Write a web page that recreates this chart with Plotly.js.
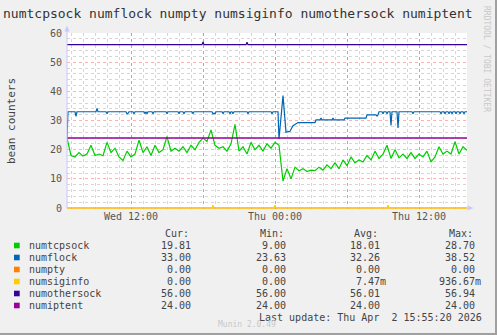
<!DOCTYPE html>
<html>
<head>
<meta charset="utf-8">
<script src="https://cdn.plot.ly/plotly-3.0.1.min.js"></script>
<style>html,body{margin:0;padding:0;background:#F0F0F0;}#chart{width:497px;height:335px;}</style>
</head>
<body>
<div id="chart"></div>
<script>
// ---- data ----
const seriesNames = ["numtcpsock","numflock","numpty","numsiginfo","numothersock","numiptent"];
const seriesColors = ["#00CC00","#0066B3","#FF8000","#FFCC00","#330099","#990099"];
const curVals = ["19.81","33.00","0.00","0.00","56.00","24.00"];
const minVals = ["9.00","23.63","0.00","0.00","56.00","24.00"];
const avgVals = ["18.01","32.26","0.00","7.47m","56.01","24.00"];
const maxVals = ["28.70","38.52","0.00","936.67m","56.94","24.00"];

// numtcpsock sampled every 20 minutes starting Wed 06:40
const tcpStart = "2026-04-01 06:40";
const tcpStepMin = 20;
const tcpValues = [24,18,17.5,19,17.8,18.5,21.5,18,18.5,17.9,
  22.5,19,20.5,17.5,16.3,19.5,17.5,18.5,23.3,19,
  21,18,21.5,19,20,24.5,19.5,20.5,19.5,21,
  19,21.5,20,22.5,24,22.8,26.8,21.5,20.5,21,
  19.5,22,28.7,19.5,21,18.5,22.5,20,21.5,19.5,
  22,20.5,22.5,21.5,9.2,13.5,10,14,12.8,13.5,
  12.5,13,12.8,14,13,14.8,13.5,15.5,13.5,16.5,
  14.5,17.5,15.5,16.5,15.8,18,16.5,19.5,17,18.5,
  21.5,17,20,17.2,18.5,17,19,17,18.5,17.5,
  19.5,15.8,17.5,21,18.5,19.5,18.5,22.7,18.5,21,19.81];

const flockTimes = ["04-01 06:40","04-01 06:45","04-01 07:20","04-01 07:25","04-01 07:30","04-01 09:05","04-01 09:10","04-01 09:15",
  "04-01 09:55","04-01 10:00","04-01 10:05","04-01 11:35","04-01 11:40","04-01 11:45","04-01 11:50",
  "04-01 12:10","04-01 12:15","04-01 12:20","04-01 13:05","04-01 13:10","04-01 13:15","04-01 13:20","04-01 13:25",
  "04-01 13:45","04-01 13:50","04-01 13:55","04-01 14:55","04-01 15:00","04-01 15:05",
  "04-01 15:55","04-01 16:00","04-01 16:05","04-01 16:20","04-01 16:25","04-01 16:30",
  "04-01 17:05","04-01 17:10","04-01 17:15","04-01 18:45","04-01 18:50","04-01 18:55","04-01 19:00","04-01 19:05",
  "04-01 19:35","04-01 19:40","04-01 19:45","04-01 20:10","04-01 20:15","04-01 20:20","04-01 20:25","04-01 20:30","04-01 20:35",
  "04-01 21:40","04-01 21:45","04-01 21:50","04-01 23:40","04-01 23:45","04-01 23:50",
  "04-02 00:15","04-02 00:20","04-02 00:40","04-02 00:55","04-02 01:15","04-02 01:30","04-02 01:55",
  "04-02 03:20","04-02 03:25","04-02 03:45","04-02 03:50","04-02 03:55","04-02 04:45","04-02 04:50","04-02 04:55",
  "04-02 05:45","04-02 05:50","04-02 07:35","04-02 07:40","04-02 08:25","04-02 08:30","04-02 08:35","04-02 08:40",
  "04-02 08:55","04-02 09:00","04-02 09:05","04-02 09:15","04-02 09:20","04-02 09:25","04-02 09:35","04-02 09:40","04-02 09:45",
  "04-02 10:10","04-02 10:15","04-02 10:20","04-02 11:25","04-02 11:30","04-02 11:35",
  "04-02 13:45","04-02 13:50","04-02 13:55","04-02 14:05","04-02 14:10","04-02 14:15","04-02 14:25","04-02 14:30","04-02 14:35",
  "04-02 14:40","04-02 14:45","04-02 14:50","04-02 15:00","04-02 15:05","04-02 15:10","04-02 15:20","04-02 15:25","04-02 15:30",
  "04-02 15:40","04-02 15:45","04-02 15:50","04-02 16:00"];
const flockValues = [24,33,33,31.4,33,33,34.1,33,
  33,32.3,33,33,32.3,32.5,33,
  33,32.3,33,33,32.3,33,32.3,33,
  33,32.3,33,33,32.3,33,
  33,32.3,33,33,32.3,33,
  33,32.3,33,33,32.3,32.5,32.3,33,
  33,32.3,33,33,32.3,33,33,32.3,33,
  33,32.3,33,33,32.3,33,
  33,23.63,38.52,26,26.3,28.2,29.3,
  29.3,30.2,30.2,30.8,30.2,30.2,30.8,30.2,
  30.2,30.8,30.8,31.9,31.9,31.5,31.9,33,
  33,32.3,33,33,32.3,33,33,28.3,33,
  33,27.4,33,33,32.3,33,
  33,32.3,33,33,32.3,33,33,32.3,33,
  33,32.3,33,33,32.3,33,33,32.3,33,
  33,32.3,33,33];

const ptyTimes = ["04-01 06:40","04-02 16:00"];
const ptyValues = [0,0];

const siginfoTimes = ["04-01 06:40","04-01 18:45","04-01 18:50","04-01 18:55","04-01 23:55","04-02 00:00","04-02 00:05","04-02 09:20","04-02 09:25","04-02 09:30","04-02 16:00"];
const siginfoValues = [0,0,0.94,0,0,0.94,0,0,0.94,0,0];

const othersockTimes = ["04-01 06:40","04-01 17:55","04-01 18:00","04-01 18:05","04-01 21:35","04-01 21:40","04-01 21:45","04-02 16:00"];
const othersockValues = [56,56,56.94,56,56,56.8,56,56];

const iptentTimes = ["04-01 06:40","04-02 16:00"];
const iptentValues = [24,24];

const xTickVals = ["2026-04-01 12:00","2026-04-01 18:00","2026-04-02 00:00","2026-04-02 06:00","2026-04-02 12:00"];
const xTickText = ["Wed 12:00","","Thu 00:00","","Thu 12:00"];
const xRange = ["2026-04-01 06:40","2026-04-02 16:00"];

// ---- helpers ----
function pad(n){return (n<10?"0":"")+n;}
function addMinutes(s, m){
  const [d,t]=s.split(" ");
  const [Y,M,D]=d.split("-").map(Number);
  const [h,mi]=t.split(":").map(Number);
  const dt=new Date(Date.UTC(Y,M-1,D,h,mi+m));
  return dt.getUTCFullYear()+"-"+pad(dt.getUTCMonth()+1)+"-"+pad(dt.getUTCDate())+" "+pad(dt.getUTCHours())+":"+pad(dt.getUTCMinutes());
}
const full = a => a.map(s=>"2026-"+s);
const tcpTimes = tcpValues.map((v,i)=>addMinutes(tcpStart,i*tcpStepMin));

const W=497,H=335,L=67,R=30,T=33,B=126;
const pw=W-L-R, ph=H-T-B;
const px = x => (x-L)/pw;
const py = y => (H-B-y)/ph;

const MONO = "DejaVu Sans Mono, monospace";
const mk = (x,y,name,color,width) => ({x:x,y:y,name:name,type:"scatter",mode:"lines",line:{color:color,width:width||1.2},hoverinfo:"skip"});

const traces = [
  mk(tcpTimes,tcpValues,seriesNames[0],seriesColors[0]),
  mk(full(flockTimes),flockValues,seriesNames[1],seriesColors[1]),
  mk(full(ptyTimes),ptyValues,seriesNames[2],seriesColors[2]),
  mk(full(siginfoTimes),siginfoValues,seriesNames[3],seriesColors[3]),
  mk(full(othersockTimes),othersockValues,seriesNames[4],seriesColors[4]),
  mk(full(iptentTimes),iptentValues,seriesNames[5],seriesColors[5],1.5)
];

const annotations = [];
const shapes = [];
const txt = (x,y,text,opts) => Object.assign({xref:"paper",yref:"paper",x:px(x),y:py(y),text:text,showarrow:false,
  xanchor:"left",yanchor:"middle",font:{family:MONO,size:10,color:"#444"}},opts||{});

annotations.push(txt(1,13,"numtcpsock numflock numpty numsiginfo numothersock numiptent",{font:{family:MONO,size:13,color:"#333"}}));
annotations.push(txt(11,121,"bean counters",{xanchor:"center",textangle:-90,font:{family:MONO,size:11,color:"#444"}}));
annotations.push(txt(487,59,"RRDTOOL / TOBI OETIKER",{xanchor:"center",textangle:90,font:{family:MONO,size:8,color:"#C8C8C8"}}));

const colRight=[192.7,288.3,382.3,477.3];
const headers=["Cur:","Min:","Avg:","Max:"];
headers.forEach((h,k)=>annotations.push(txt(colRight[k]-30,233.5,h)));
const cols=[curVals,minVals,avgVals,maxVals];
seriesNames.forEach((n,i)=>{
  const y=245.5+12*i;
  shapes.push({type:"rect",xref:"paper",yref:"paper",x0:px(14),x1:px(19.7),y0:py(y-2.8),y1:py(y+2.8),fillcolor:seriesColors[i],line:{width:0}});
  annotations.push(txt(26.5,y,n));
  cols.forEach((c,k)=>{
    const v=c[i];
    const suf=/[a-zA-Z]$/.test(v);
    annotations.push(txt(colRight[k]+(suf?6:0),y,v,{xanchor:"right"}));
  });
});
annotations.push(txt(483.5,317.5,"Last update: Thu Apr  2 15:55:20 2026",{xanchor:"right"}));
annotations.push(txt(247,324.5,"Munin 2.0.49",{xanchor:"center",font:{family:MONO,size:8,color:"#C8C8C8"}}));

// axis arrows
const axisCol="#C8C8FF";
shapes.push({type:"path",xref:"paper",yref:"paper",path:`M ${px(64.5)},${py(31.5)} L ${px(69.5)},${py(31.5)} L ${px(67)},${py(25.5)} Z`,fillcolor:axisCol,line:{width:0}});
shapes.push({type:"line",xref:"paper",yref:"paper",x0:px(67),x1:px(67),y0:py(208),y1:py(30),line:{color:axisCol,width:1}});
shapes.push({type:"path",xref:"paper",yref:"paper",path:`M ${px(467.5)},${py(205.5)} L ${px(467.5)},${py(210.5)} L ${px(473.5)},${py(208)} Z`,fillcolor:axisCol,line:{width:0}});
// frame
shapes.push({type:"line",xref:"paper",yref:"paper",x0:px(496),x1:px(496),y0:py(0),y1:py(335),line:{color:"#A0A0A0",width:2}});
shapes.push({type:"line",xref:"paper",yref:"paper",x0:px(0),x1:px(497),y0:py(334),y1:py(334),line:{color:"#A0A0A0",width:2}});

const majorGrid="rgba(255,0,0,0.3)";
const minorGrid="#D6D6D6";
const layout = {
  width:W,height:H,
  margin:{l:L,r:R,t:T,b:B,pad:0},
  paper_bgcolor:"#F0F0F0",plot_bgcolor:"#FFFFFF",
  showlegend:false,
  font:{family:MONO,size:10,color:"#555"},
  xaxis:{type:"date",range:xRange,tickmode:"array",tickvals:xTickVals,ticktext:xTickText,
    showgrid:true,gridcolor:majorGrid,griddash:"dot",gridwidth:1,
    minor:{dtick:3600000,tick0:"2026-04-01 00:00",showgrid:true,gridcolor:minorGrid,griddash:"dot",gridwidth:1},
    showline:false,zeroline:false,ticks:"",tickfont:{family:MONO,size:10,color:"#555"},layer:"below traces",fixedrange:true},
  yaxis:{range:[-60/175,60],tickmode:"linear",tick0:0,dtick:10,
    showgrid:true,gridcolor:majorGrid,griddash:"dot",gridwidth:1,
    minor:{dtick:2,showgrid:true,gridcolor:minorGrid,griddash:"dot",gridwidth:1},
    showline:false,zeroline:false,ticks:"",ticklabelstandoff:4,tickfont:{family:MONO,size:10,color:"#555"},layer:"below traces",fixedrange:true},
  annotations:annotations,
  shapes:shapes
};

Plotly.newPlot("chart",traces,layout,{staticPlot:true,displayModeBar:false});
</script>
</body>
</html>
